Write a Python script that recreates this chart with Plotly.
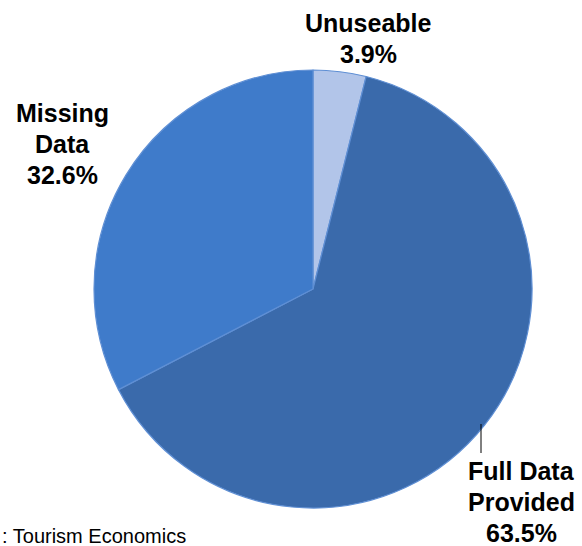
import plotly.graph_objects as go

# Share of survey responses by data status
categories = ["Unuseable", "Full Data Provided", "Missing Data"]
shares = [3.9, 63.5, 32.6]
label_lines = [["Unuseable"], ["Full Data", "Provided"], ["Missing", "Data"]]
slice_colors = ["#b2c5e9", "#3a6aab", "#3f7bca"]

fig = go.Figure(
    go.Pie(
        labels=categories,
        values=shares,
        sort=False,
        direction="clockwise",
        rotation=0,
        textinfo="none",
        hoverinfo="label+percent",
        marker=dict(colors=slice_colors, line=dict(color="#5f8fd4", width=1.2)),
        domain=dict(x=[94 / 582, 532 / 582], y=[38 / 546, 476 / 546]),
        showlegend=False,
    )
)

label_font = dict(family="Liberation Sans, Arial, sans-serif", size=25, color="#000000")
# x centre and y of the first line (px from top) for each slice label
label_pos = [(368, 23), (521, 471), (62, 113)]
line_step = 31

for lines, share, (cx, top_y) in zip(label_lines, shares, label_pos):
    for i, t in enumerate(lines + [f"{share}%"]):
        fig.add_annotation(
            x=cx / 582, y=1 - (top_y + i * line_step) / 546,
            xref="paper", yref="paper", text=f"<b>{t}</b>", showarrow=False,
            font=label_font, align="center", xanchor="center", yanchor="middle",
        )

# leader line for the large slice label
fig.add_shape(
    type="line", xref="paper", yref="paper",
    x0=481 / 582, x1=481 / 582, y0=1 - 424 / 546, y1=1 - 453 / 546,
    line=dict(color="#000000", width=1),
)

fig.add_annotation(
    x=0, y=1 - 536 / 546, xref="paper", yref="paper", text=": Tourism Economics",
    showarrow=False, xanchor="left", yanchor="middle",
    font=dict(family="Liberation Sans, Arial, sans-serif", size=20, color="#000000"),
)

fig.update_layout(
    width=582, height=546,
    margin=dict(l=0, r=0, t=0, b=0),
    paper_bgcolor="#ffffff", plot_bgcolor="#ffffff",
)

fig.write_html("out.html")
